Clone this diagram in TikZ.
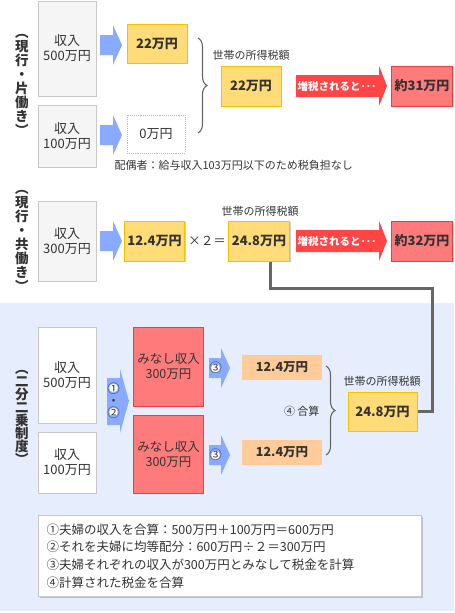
\documentclass[tikz,border=0pt]{standalone}
\usepackage{fontspec}
\setmainfont{Noto Sans CJK JP}
\usetikzlibrary{positioning,decorations.pathreplacing,shadows}
\definecolor{ink}{HTML}{333333}
\definecolor{boxgray}{HTML}{F5F5F5}
\definecolor{linegray}{HTML}{C8C8C8}
\definecolor{taxfill}{HTML}{FFDC78}
\definecolor{taxline}{HTML}{F2C200}
\definecolor{upfill}{HTML}{FF7B7B}
\definecolor{upline}{HTML}{E84040}
\definecolor{uparrow}{HTML}{FF4545}
\definecolor{flow}{HTML}{88AAFF}
\definecolor{halffill}{HTML}{FFCC99}
\definecolor{panel}{HTML}{E6EDFC}
\definecolor{linkgray}{HTML}{666666}
\tikzset{
  boxshade/.style = {drop shadow={shadow xshift=1.2pt, shadow yshift=-1.2pt,
                     opacity=0.18, fill=black}},
  incbox/.style   = {draw=linegray, fill=boxgray, line width=1pt, minimum width=58pt,
                     align=center, text=ink, font=\fontsize{13}{15}\selectfont, boxshade},
  taxbox/.style   = {draw=taxline, fill=taxfill, line width=1pt, align=center,
                     text=ink, font=\bfseries\fontsize{13}{15}\selectfont, boxshade},
  nilbox/.style   = {draw=taxline, densely dotted, line width=0.9pt, align=center,
                     text=ink, font=\fontsize{13}{15}\selectfont},
  upbox/.style    = {draw=upline, fill=upfill, line width=1pt, minimum width=60pt,
                     minimum height=40pt, text=ink, font=\bfseries\fontsize{13}{15}\selectfont,
                     boxshade},
  mibox/.style    = {draw=upline, fill=upfill, line width=1pt, minimum width=69pt,
                     align=center, text=ink, font=\fontsize{12.5}{15}\selectfont},
  halfbox/.style  = {fill=halffill, minimum width=80pt, minimum height=25pt, text=ink,
                     font=\bfseries\fontsize{12.5}{15}\selectfont},
  vlabel/.style   = {align=center, text=ink, font=\bfseries\fontsize{13.5}{14}\selectfont},
  capt/.style     = {text=ink, font=\fontsize{11}{13}\selectfont},
  uptext/.style   = {text=white, font=\bfseries\fontsize{10.5}{13}\selectfont},
  brc/.style      = {decorate, decoration={brace, amplitude=9pt}, draw=linkgray,
                     line width=1.1pt},
  link/.style     = {draw=linkgray, line width=3pt},
}
\begin{document}
\begin{tikzpicture}[x=1pt,y=-1pt]
\useasboundingbox (0,0) rectangle (455,613);
% panel behind the split-income case
\fill[panel] (0,303) rectangle (454,611);

% --- single income ---
\node[vlabel] (labA) at (22,85) {︵\\現\\行\\・\\片\\働\\き\\︶};
\node[incbox, minimum height=95pt] (incA) at (67,48.5) {収入\\500万円};
\node[incbox, minimum height=62pt] (incB) at (67,136) {収入\\100万円};
\foreach \y in {45,135,241}
  \fill[flow] (100,\y-10) -- (113,\y-10) -- (113,\y-20) -- (122,\y)
    -- (113,\y+20) -- (113,\y+10) -- (100,\y+10) -- cycle;
\node[taxbox, minimum width=60pt, minimum height=39pt] (taxA) at (157,43.5) {22万円};
\node[nilbox, minimum width=58pt, minimum height=38pt] (nilB) at (156,134) {0万円};
\draw[brc] (198,38) -- (198,133);
\node[capt, anchor=west] (spouse) at (111,165) {配偶者：給与収入103万円以下のため税負担なし};
\node[capt] (capA) at (251,55) {世帯の所得税額};
\node[taxbox, minimum width=60pt, minimum height=40pt] (houseA) at (251,86) {22万円};
\foreach \y in {86,241}
  \fill[uparrow] (296,\y-11) -- (379,\y-11) -- (379,\y-20) -- (387,\y)
    -- (379,\y+20) -- (379,\y+11) -- (296,\y+11) -- cycle;
\node[uptext] (upA) at (337,86) {増税されると･･･};
\node[upbox] (resA) at (422,86) {約31万円};

% --- double income ---
\node[vlabel] (labB) at (22,241) {︵\\現\\行\\・\\共\\働\\き\\︶};
\node[incbox, minimum height=80pt] (incC) at (67,241) {収入\\300万円};
\node[taxbox, minimum width=59pt, minimum height=40pt] (taxC) at (154.5,241) {12.4万円};
\node[text=ink, font=\fontsize{12.5}{15}\selectfont] (times) at (207,241) {×２＝};
\node[capt] (capB) at (260,211) {世帯の所得税額};
\node[taxbox, minimum width=60pt, minimum height=40pt] (houseB) at (259,241) {24.8万円};
\node[uptext] (upB) at (337,241) {増税されると･･･};
\node[upbox] (resB) at (422,241) {約32万円};

% --- split income ---
\node[vlabel, font=\bfseries\fontsize{13.5}{13}\selectfont] (labC) at (22,417) {︵\\二\\分\\二\\乗\\制\\度\\︶};
\node[incbox, fill=white, minimum height=96pt] (incD) at (67,375) {収入\\500万円};
\node[incbox, fill=white, minimum height=61pt] (incE) at (67,462.5) {収入\\100万円};
\fill[flow] (107,378) -- (120,378) -- (120,369) -- (129,401) -- (120,433)
  -- (120,425) -- (107,425) -- cycle;
\foreach \y in {388,412} \fill[white] (113.5,\y) circle (4.3);
\node[align=center, text=ink, font=\fontsize{12.5}{12}\selectfont] (stepAB) at (113.5,400.5) {①\\・\\②};
\node[mibox, minimum height=79pt] (miA) at (168.5,366.5) {みなし収入\\300万円};
\node[mibox, minimum height=78pt] (miB) at (168.5,454) {みなし収入\\300万円};
\foreach \y in {368,455} {
  \fill[flow] (209,\y-10) -- (221,\y-10) -- (221,\y-20) -- (230,\y)
    -- (221,\y+20) -- (221,\y+10) -- (209,\y+10) -- cycle;
  \fill[white] (215.5,\y) circle (4.3);
}
\node[text=ink, font=\fontsize{12.5}{12}\selectfont] (stepCa) at (215.5,368) {③};
\node[text=ink, font=\fontsize{12.5}{12}\selectfont] (stepCb) at (215.5,455) {③};
\node[halfbox] (halfA) at (282,367.5) {12.4万円};
\node[halfbox] (halfB) at (282,452.5) {12.4万円};
\draw[brc] (326,366) -- (326,455);
\node[capt, anchor=east] (sumlab) at (323,411) {④ 合算};
\node[capt] (capC) at (382,381) {世帯の所得税額};
\node[taxbox, minimum width=69pt, minimum height=39pt] (houseC) at (382.5,411.5) {24.8万円};

% same household tax in both cases
\coordinate (bend) at (432,288);
\draw[link] ([xshift=11pt]houseB.south) |- (bend) |- (houseC.east);

% key to the steps
\node[draw=linegray, fill=white, line width=1pt, boxshade, anchor=north west,
      minimum width=383pt, minimum height=81pt, text width=367pt, align=left,
      text=ink, font=\fontsize{12.5}{17.7}\selectfont] (steps) at (38,515)
  {①夫婦の収入を合算：500万円＋100万円＝600万円\\
   ②それを夫婦に均等配分：600万円÷２＝300万円\\
   ③夫婦それぞれの収入が300万円とみなして税金を計算\\
   ④計算された税金を合算};
\end{tikzpicture}
\end{document}
